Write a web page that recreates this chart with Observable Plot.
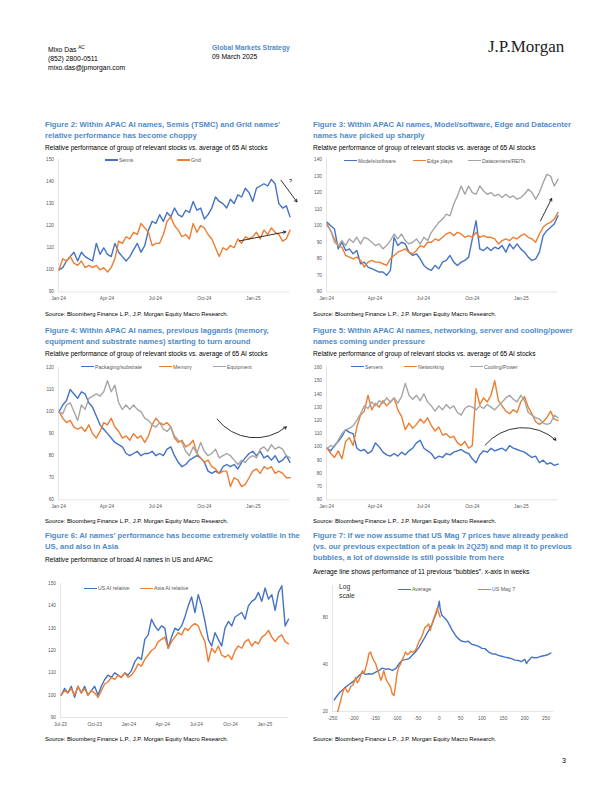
<!DOCTYPE html>
<html><head><meta charset="utf-8">
<script src="https://cdn.jsdelivr.net/npm/d3@7"></script>
<script src="https://cdn.jsdelivr.net/npm/@observablehq/plot@0.6"></script>
<style>
body{margin:0;background:#fff;}
#page{position:relative;width:612px;height:792px;overflow:hidden;background:#fff;font-family:"Liberation Sans",Arial,sans-serif;}
.t{position:absolute;white-space:nowrap;}
.title{color:#4F8BC9;font-weight:bold;font-size:7.7px;line-height:11px;}
.sub{font-size:6.6px;line-height:8px;color:#000;}
.src{font-size:5.9px;line-height:8px;color:#000;}
.hdr{font-size:6.8px;line-height:9px;color:#000;}
.leg{position:absolute;font-size:5.2px;color:#595959;line-height:6px;white-space:nowrap;display:flex;align-items:center;}
.leg i{display:inline-block;width:13px;height:1.3px;margin-right:1px;}
</style>
</head><body><div id="page"></div>
<script>
// ---------- DATA ----------
// Figures 2-5: weekly readings, Jan 2024 - Mar 2025
const weekStart = "2024-01-02";
const semis = [100,101,104,106,108,104,108,106,105,104,112,107,110,107,106,112,108,106,104,106,109,112,108,111,118,122,121,125,122,126,124,128,125,124,127,126,131,127,128,123,125,128,133,131,130,128,132,130,134,133,137,135,131,137,138,139,138,141,139,130,128,129,124];
const grid = [100,105,104,106,103,102,104,101,102,101,102,100,101,99,101,105,113,112,115,114,117,116,121,119,117,111,112,112,116,122,124,120,118,115,116,114,121,117,120,119,116,114,110,106,110,109,111,110,114,112,115,114,115,117,114,118,116,119,117,116,113,114,118];
const models = [102,100,98,86,90,85,86,83,85,77,78,75,74,73,72,72,70,73,93,88,90,89,84,82,83,80,76,74,73,76,74,78,79,82,78,76,78,79,81,92,103,86,85,87,85,87,86,88,84,89,86,89,86,84,81,79,80,84,94,97,99,101,106];
const edge = [101,97,92,88,87,82,81,80,81,79,75,78,79,78,78,77,76,80,82,84,85,86,84,83,85,88,87,90,90,92,91,93,95,96,94,96,95,93,94,93,96,93,94,93,93,92,89,91,92,91,93,92,94,95,93,92,90,95,99,101,102,104,108];
const datacenters = [100,97,90,88,91,88,92,90,93,89,93,92,90,88,89,86,88,91,95,92,95,91,89,90,92,89,93,91,96,99,102,104,107,106,113,118,124,119,124,120,119,124,121,119,120,118,119,117,119,117,118,116,117,119,122,120,116,120,126,131,130,124,128];
const packaging = [100,103,105,110,108,106,109,108,104,102,98,94,92,90,88,86,85,84,81,80,81,82,80,81,81,82,80,81,80,83,84,80,77,75,76,78,79,80,79,77,73,72,73,72,75,76,75,76,74,77,79,81,82,80,82,79,80,78,80,77,78,80,77];
const memory = [100,97,95,96,93,92,93,91,94,90,88,91,95,94,97,93,91,88,89,87,90,88,89,86,89,94,97,95,94,95,93,88,86,87,84,85,87,81,79,77,78,75,74,72,73,73,66,70,69,66,67,70,73,74,72,75,74,75,72,73,72,70,70];
const equipment = [100,99,103,104,100,96,103,101,106,107,108,107,109,114,109,112,104,101,103,101,103,101,100,97,96,94,93,95,92,91,93,89,87,86,82,80,84,81,86,82,80,81,83,79,80,81,80,78,76,78,77,79,80,79,83,84,82,85,83,84,83,80,79];
const servers = [99,97,101,104,108,113,111,110,99,97,98,95,97,103,100,96,94,93,95,93,96,94,97,99,103,105,99,97,95,91,93,92,95,94,96,97,98,96,95,91,88,94,97,96,99,97,98,99,97,101,99,98,97,96,94,92,93,88,90,87,88,86,87];
const networking = [99,95,92,97,91,104,107,101,115,124,127,139,128,133,130,135,131,134,137,128,123,113,118,114,117,121,118,122,116,112,115,109,110,107,108,103,101,104,99,101,144,132,137,134,139,150,135,131,127,125,128,126,134,138,130,125,119,117,119,122,127,121,120];
const cooling = [99,101,100,105,110,113,114,116,120,125,131,129,134,131,135,133,137,134,137,133,138,148,139,136,139,135,140,134,131,127,131,128,132,129,131,126,124,129,131,130,128,131,129,132,130,128,131,134,137,139,136,134,139,135,126,124,122,121,118,117,118,124,122];
// Figure 6: readings every ~9 days, Jul 2023 - Mar 2025
const f6Start = "2023-07-03";
const usAI = [100,103,101,104,99,104,101,104,100,102,104,100,104,107,109,108,110,109,108,110,109,111,115,117,116,125,127,134,131,129,131,130,121,126,130,129,131,135,140,144,137,145,140,133,125,122,128,125,122,130,133,131,135,136,137,134,140,142,143,146,142,148,143,145,138,146,149,131,134];
const asiaAI = [100,102,101,103,100,104,101,103,100,102,101,99,102,105,106,108,107,109,108,110,108,109,111,114,113,116,118,120,121,124,125,126,121,124,126,128,127,130,129,131,132,131,127,124,115,121,119,122,118,117,118,116,120,122,121,124,125,122,124,123,126,127,129,126,124,126,127,124,123];
// Figure 7: weeks from peak, log scale
const avgWeeks = [-246,-240,-233,-227,-220,-213,-203,-196,-188,-180,-172,-165,-157,-149,-141,-134,-126,-118,-110,-102,-95,-87,-79,-71,-64,-56,-48,-40,-33,-25,-17,-13,-9,-5,-2,0,2,6,12,18,24,30,38,45,53,61,68,76,84,92,100,107,115,123,131,138,146,154,161,169,177,185,192,200,204,208,216,223,231,239,247,254,261];
const avgVals = [23.7,25,26.5,27.3,28.5,29.5,30.9,32,33.9,35.3,34.5,34.8,34.6,35.6,36.5,37.8,37.2,37.4,36.5,37.5,40,42.5,42.8,43.4,45.5,47.9,51,55.5,60,65.5,72,77,82,88,95,101,90,82,79,76,71,66,61,58,56,55.5,56,53.6,53,52,50.5,50.3,48,46.7,46.5,45.6,45,44.4,44,43.4,42.5,42.3,41.5,43,40.4,42,44.4,44,44.2,45,45.5,46,47.1];
const mag7Weeks = [-238,-234,-230,-227,-223,-219,-215,-211,-207,-203,-199,-196,-192,-188,-184,-180,-176,-172,-168,-165,-161,-157,-153,-149,-145,-141,-137,-134,-130,-126,-122,-118,-114,-110,-106,-102,-99,-95,-91,-87,-83,-79,-75,-71,-67,-64,-60,-56,-52,-48,-44,-40,-36,-33,-29,-25,-21,-17,-13,-9,-5,-2,2];
const mag7Vals = [20,21.8,24,25.9,28,27.9,26.5,27.3,29,29.3,31,33,30.5,31.6,34,36.4,35,38.3,42,46.7,47.9,44.4,42,40.4,37,34.7,31.6,33,36.4,33,31,30,28.5,25.9,25.3,30,34.7,38.3,40,42.5,45,47.9,46,46.7,48.5,47.9,48,49,52,55.5,58,61,66,69,70,72.3,65.5,72.3,78,84,90.5,86,80];
// tick labels
const ticks24 = ["2024-01-01","2024-04-01","2024-07-01","2024-10-01","2025-01-01"];
const ticks23 = ["2023-07-01","2023-10-01","2024-01-01","2024-04-01","2024-07-01","2024-10-01","2025-01-01"];
const weekTicks = [-250,-200,-150,-100,-50,0,50,100,150,200,250];
// annotations (data coordinates)
const f2Arrows = [{x1:"2025-02-22",y1:140.6,x2:"2025-03-24",y2:130.8},{x1:"2024-12-06",y1:113.1,x2:"2025-03-03",y2:117.2}];
const f2Notes = [{x:"2025-03-12",y:140.3,t:"?"}];
const f3Arrows = [{x1:"2025-02-06",y1:102.9,x2:"2025-02-27",y2:116.4}];
const f4Arrows = [{x1:"2024-10-25",y1:96.6,x2:"2025-03-04",y2:93.1}];
const f5Arrows = [{x1:"2024-10-25",y1:101.3,x2:"2025-03-07",y2:105.1}];

// ---------- RENDER ----------
const C = {blue:"#4472C4", orange:"#ED7D31", gray:"#A5A5A5"};
const page = document.getElementById("page");
function txt(cls, x, y, html, style="") {
  const d = document.createElement("div");
  d.className = "t " + cls; d.style.left = x + "px"; d.style.top = y + "px";
  if (style) d.style.cssText += style;
  d.innerHTML = html; page.appendChild(d);
}
function legend(items) {
  for (const [x, y, color, label] of items) {
    const d = document.createElement("div");
    d.className = "leg"; d.style.left = x + "px"; d.style.top = (y - 3) + "px";
    d.innerHTML = `<i style="background:${color}"></i>${label}`;
    page.appendChild(d);
  }
}
const D = s => new Date(s);
const weeklyDates = d3.range(63).map(i => d3.utcDay.offset(D(weekStart), 7 * i));
const f6Dates = d3.range(usAI.length).map(i => d3.utcDay.offset(D(f6Start), 9 * i));
const toSeries = (xs, vals) => vals.map((v, i) => ({x: xs[i], y: v}));
const fmtDate = d3.utcFormat("%b-%y");

function chart(o) {
  const [x0, x1, y0, y1] = o.rect;
  const mL = 26, mR = 16, mT = 10, mB = 16;
  const marks = [
    Plot.ruleX([o.x.domain[0]], {stroke: "#D9D9D9", strokeWidth: 0.7}),
    Plot.ruleY([o.y.domain[0]], {stroke: "#D9D9D9", strokeWidth: 0.7}),
    Plot.axisY({ticks: o.yTicks, tickSize: 0, tickPadding: 4.5, tickFormat: d => String(d), fill: "#595959", label: null}),
    Plot.axisX({ticks: o.xTicks, tickSize: 0, tickPadding: 5, tickFormat: o.xFmt, fill: "#595959", label: null}),
    ...o.series.map(s => Plot.line(s.data, {x: "x", y: "y", stroke: s.color, strokeWidth: 1.4})),
  ];
  for (const a of (o.arrows || [])) {
    marks.push(Plot.arrow(a.data, {x1: d => o.conv(d.x1), y1: "y1", x2: d => o.conv(d.x2), y2: "y2", bend: a.bend || 0, stroke: "#000", strokeWidth: 0.8, headLength: 5}));
  }
  if (o.notes) marks.push(Plot.text(o.notes, {x: d => o.conv(d.x), y: "y", text: "t", fill: "#000", fontSize: 5.5}));
  const svg = Plot.plot({
    width: x1 - x0 + mL + mR, height: y1 - y0 + mT + mB,
    marginLeft: mL, marginRight: mR, marginTop: mT, marginBottom: mB,
    style: {fontFamily: '"Liberation Sans", Arial, sans-serif', fontSize: "4.8px", background: "transparent", overflow: "visible"},
    x: o.x, y: o.y, marks
  });
  svg.style.position = "absolute";
  svg.style.left = (x0 - mL) + "px"; svg.style.top = (y0 - mT) + "px";
  page.appendChild(svg);
}

// Header
txt("hdr", 48, 42.5, 'Mixo Das <sup style="font-size:4.5px">AC</sup><br>(852) 2800-0511<br>mixo.das@jpmorgan.com');
txt("hdr", 212, 42.5, '<span style="color:#4F8BC9;font-weight:bold">Global Markets Strategy</span><br>09 March 2025');
txt("", 488, 37, 'J.P.Morgan', 'font-family:"Liberation Serif",serif;font-size:17px;color:#222;line-height:20px;');
txt("", 562, 757, '3', 'font-size:7px;color:#000;');

const subA = "Relative performance of group of relevant stocks vs. average of 65 AI stocks";
const srcT = "Source: Bloomberg Finance L.P., J.P. Morgan Equity Macro Research.";
const domain24 = [D("2024-01-01"), D("2025-03-10")];
const dateChart = {conv: D, xTicks: ticks24.map(D), xFmt: fmtDate};

// Figure 2
txt("title", 45, 118.5, "Figure 2: Within APAC AI names, Semis (TSMC) and Grid names'<br>relative performance has become choppy");
txt("sub", 45, 143.7, subA);
chart({...dateChart, rect: [58, 289, 159.3, 291.7], x: {type: "utc", domain: domain24}, y: {domain: [90, 150]}, yTicks: [90,100,110,120,130,140,150],
  series: [{data: toSeries(weeklyDates, semis), color: C.blue}, {data: toSeries(weeklyDates, grid), color: C.orange}],
  arrows: [{data: f2Arrows}], notes: f2Notes});
legend([[105, 160, C.blue, "Semis"], [177, 160, C.orange, "Grid"]]);
txt("src", 45, 310, srcT);

// Figure 3
txt("title", 313, 118.5, "Figure 3: Within APAC AI names, Model/software, Edge and Datacenter<br>names have picked up sharply");
txt("sub", 313, 143.7, subA);
chart({...dateChart, rect: [326, 557, 159.3, 291.7], x: {type: "utc", domain: domain24}, y: {domain: [60, 140]}, yTicks: [60,70,80,90,100,110,120,130,140],
  series: [{data: toSeries(weeklyDates, models), color: C.blue}, {data: toSeries(weeklyDates, edge), color: C.orange}, {data: toSeries(weeklyDates, datacenters), color: C.gray}],
  arrows: [{data: f3Arrows}]});
legend([[344, 160.7, C.blue, "Models/software"], [413, 160.7, C.orange, "Edge plays"], [468, 160.7, C.gray, "Datacenters/REITs"]]);
txt("src", 313, 310, srcT);

// Figure 4
txt("title", 45, 325.2, "Figure 4: Within APAC AI names, previous laggards (memory,<br>equipment and substrate names) starting to turn around");
txt("sub", 45, 350.3, subA);
chart({...dateChart, rect: [58, 289, 366.7, 499], x: {type: "utc", domain: domain24}, y: {domain: [60, 120]}, yTicks: [60,70,80,90,100,110,120],
  series: [{data: toSeries(weeklyDates, packaging), color: C.blue}, {data: toSeries(weeklyDates, memory), color: C.orange}, {data: toSeries(weeklyDates, equipment), color: C.gray}],
  arrows: [{data: f4Arrows, bend: -46}]});
legend([[81, 366.7, C.blue, "Packaging/substrate"], [159, 366.7, C.orange, "Memory"], [213, 366.7, C.gray, "Equipment"]]);
txt("src", 45, 516.5, srcT);

// Figure 5
txt("title", 313, 325.2, "Figure 5: Within APAC AI names, networking, server and cooling/power<br>names coming under pressure");
txt("sub", 313, 350.3, subA);
chart({...dateChart, rect: [326, 557, 366.7, 499], x: {type: "utc", domain: domain24}, y: {domain: [60, 160]}, yTicks: [60,70,80,90,100,110,120,130,140,150,160],
  series: [{data: toSeries(weeklyDates, servers), color: C.blue}, {data: toSeries(weeklyDates, networking), color: C.orange}, {data: toSeries(weeklyDates, cooling), color: C.gray}],
  arrows: [{data: f5Arrows, bend: 46}]});
legend([[351, 366.7, C.blue, "Servers"], [404, 366.7, C.orange, "Networking"], [470, 366.7, C.gray, "Cooling/Power"]]);
txt("src", 313, 516.5, srcT);

// Figure 6
txt("title", 45, 530.2, "Figure 6: AI names' performance has become extremely volatile in the<br>US, and also in Asia");
txt("sub", 45, 556, "Relative performance of broad AI names in US and APAC");
chart({conv: D, rect: [60, 288, 582.7, 716.7], x: {type: "utc", domain: [D("2023-07-01"), D("2025-03-06")]}, y: {domain: [90, 150]}, yTicks: [90,100,110,120,130,140,150],
  xTicks: ticks23.map(D), xFmt: fmtDate,
  series: [{data: toSeries(f6Dates, usAI), color: C.blue}, {data: toSeries(f6Dates, asiaAI), color: C.orange}]});
legend([[84, 588.3, C.blue, "US AI relative"], [140, 588.3, C.orange, "Asia AI relative"]]);
txt("src", 45, 735.3, srcT);

// Figure 7
txt("title", 313, 530.2, "Figure 7: If we now assume that US Mag 7 prices have already peaked<br>(vs. our previous expectation of a peak in 2Q25) and map it to previous<br>bubbles, a lot of downside is still possible from here");
txt("sub", 313, 567.7, "Average line shows performance of 11 previous \u201cbubbles\u201d. x-axis in weeks");
chart({conv: d => d, rect: [331.7, 553, 585, 711], x: {domain: [-250, 268]}, y: {type: "log", domain: [20, 127]}, yTicks: [20, 40, 80],
  xTicks: weekTicks, xFmt: d => String(d),
  series: [{data: toSeries(avgWeeks, avgVals), color: C.blue}, {data: toSeries(mag7Weeks, mag7Vals), color: C.orange}]});
legend([[398, 589.3, C.blue, "Average"], [478, 589.3, C.orange, "US Mag 7"]]);
txt("", 339, 582, "Log<br>scale", 'font-size:6.8px;line-height:9px;color:#333;');
txt("src", 313, 735.3, srcT);
</script></body></html>
